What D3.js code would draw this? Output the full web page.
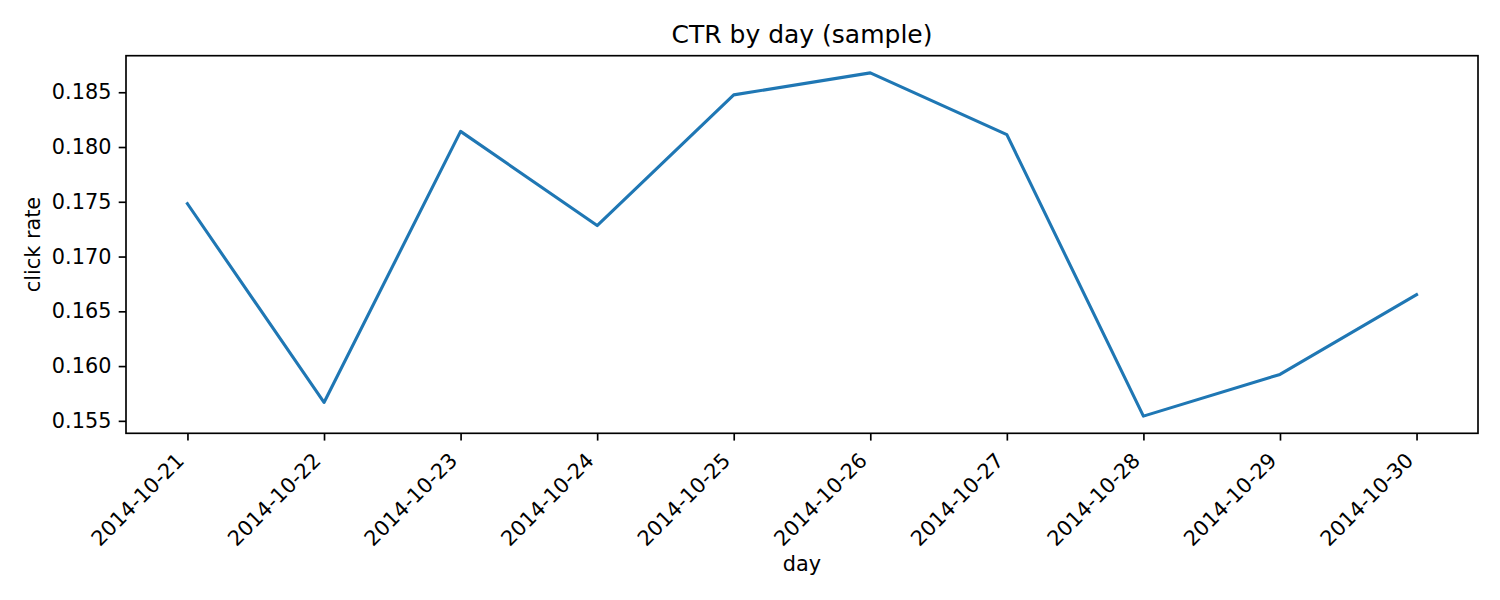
<!DOCTYPE html>
<html>
<head>
<meta charset="utf-8">
<script src="https://cdn.jsdelivr.net/npm/d3@7"></script>
<style>
  html, body { margin: 0; padding: 0; background: #fff; }
  svg { display: block; font-family: "DejaVu Sans", sans-serif; }
</style>
</head>
<body>
<svg id="chart" width="1500" height="600"></svg>
<script>
// values
var days = ["2014-10-21", "2014-10-22", "2014-10-23", "2014-10-24", "2014-10-25",
            "2014-10-26", "2014-10-27", "2014-10-28", "2014-10-29", "2014-10-30"];
var clickRate = [0.17482, 0.15668, 0.18143, 0.17283, 0.18476,
                 0.18677, 0.18113, 0.15543, 0.15924, 0.16652];
var yTicks = [0.155, 0.160, 0.165, 0.170, 0.175, 0.180, 0.185];

var titleText = "CTR by day (sample)";
var xLabel = "day";
var yLabel = "click rate";

(function(){
    var svg = d3.select("#chart");
    var left = 126, right = 1478, top = 55.7, bottom = 433.3;
    var tickLen = 7.3, tickPad = 7.3;

    // matplotlib-like 5% margins
    var n = clickRate.length;
    var xPad = (n - 1) * 0.05;
    var x = d3.scaleLinear().domain([-xPad, n - 1 + xPad]).range([left, right]);
    var yMin = d3.min(clickRate), yMax = d3.max(clickRate);
    var yPad = (yMax - yMin) * 0.05;
    var y = d3.scaleLinear().domain([yMin - yPad, yMax + yPad]).range([bottom, top]);

    // y axis
    var yAxis = d3.axisLeft(y)
        .tickValues(yTicks)
        .tickFormat(d3.format(".3f"))
        .tickSize(tickLen)
        .tickPadding(tickPad);
    var gy = svg.append("g").attr("transform", "translate(" + left + ",0)").call(yAxis);
    gy.select(".domain").remove();
    gy.selectAll(".tick line").attr("stroke", "#000").attr("stroke-width", 1.67);
    gy.selectAll(".tick text")
        .attr("fill", "#000")
        .style("font-size", "20.8px")
        .style("font-family", "DejaVu Sans");

    // x axis
    var xAxis = d3.axisBottom(x)
        .tickValues(d3.range(n))
        .tickFormat(function(i) { return days[i]; })
        .tickSize(tickLen)
        .tickPadding(0);
    var gx = svg.append("g").attr("transform", "translate(0," + bottom + ")").call(xAxis);
    gx.select(".domain").remove();
    gx.selectAll(".tick line").attr("stroke", "#000").attr("stroke-width", 1.67);
    gx.selectAll(".tick text")
        .attr("fill", "#000")
        .attr("dy", null)
        .attr("y", null)
        .attr("text-anchor", "end")
        .attr("transform", "translate(-2.5,28.5) rotate(-45)")
        .style("font-size", "20.8px")
        .style("font-family", "DejaVu Sans");

    // the line
    var line = d3.line()
        .x(function(d, i) { return x(i); })
        .y(function(d) { return y(d); });
    svg.append("path")
        .datum(clickRate)
        .attr("d", line)
        .attr("fill", "none")
        .attr("stroke", "#1f77b4")
        .attr("stroke-width", 3.1)
        .attr("stroke-linejoin", "round")
        .attr("stroke-linecap", "square");

    // frame
    svg.append("rect")
        .attr("x", left).attr("y", top)
        .attr("width", right - left).attr("height", bottom - top)
        .attr("fill", "none")
        .attr("stroke", "#000")
        .attr("stroke-width", 1.67);

    // title + labels
    svg.append("text")
        .attr("x", (left + right) / 2).attr("y", 43)
        .attr("text-anchor", "middle")
        .style("font-size", "25px")
        .text(titleText);

    svg.append("text")
        .attr("x", (left + right) / 2).attr("y", 571)
        .attr("text-anchor", "middle")
        .style("font-size", "20.8px")
        .text(xLabel);

    svg.append("text")
        .attr("transform", "translate(40," + ((top + bottom) / 2) + ") rotate(-90)")
        .attr("text-anchor", "middle")
        .style("font-size", "20.8px")
        .text(yLabel);
})();
</script>
</body>
</html>
